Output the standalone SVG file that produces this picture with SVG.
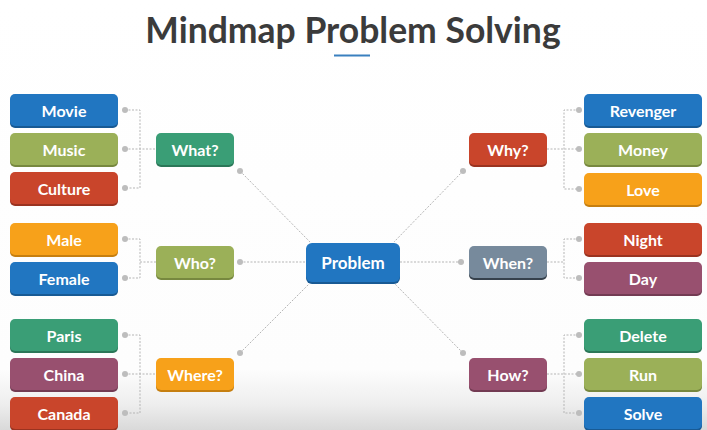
<svg xmlns="http://www.w3.org/2000/svg" width="707" height="430" viewBox="0 0 707 430">
<defs>
<linearGradient id="bg" x1="0" y1="0" x2="0" y2="1">
<stop offset="0" stop-color="#ffffff"/>
<stop offset="0.86" stop-color="#fdfdfd"/>
<stop offset="0.94" stop-color="#eeeeee"/>
<stop offset="1" stop-color="#d9d9d9"/>
</linearGradient>
</defs>
<style>
.t{font-family:Lato,"Liberation Sans",sans-serif;font-weight:bold;font-size:16px;fill:#ffffff;text-anchor:middle;dominant-baseline:central}
.big{font-size:17px}
.title{font-family:Lato,"Liberation Sans",sans-serif;font-weight:bold;font-size:35.5px;fill:#3b3b3b;text-anchor:middle}
.blue{fill:#2176c1}.blue-s{fill:#185a94}
.olive{fill:#9bb058}.olive-s{fill:#77883f}
.red{fill:#c9452b}.red-s{fill:#9a3320}
.teal{fill:#3a9e76}.teal-s{fill:#2b7758}
.orange{fill:#f7a11a}.orange-s{fill:#c67f10}
.purple{fill:#98506f}.purple-s{fill:#733b53}
.slate{fill:#778a9c}.slate-s{fill:#36414c}
.c{fill:none;stroke:#b5b5b5;stroke-width:1;stroke-dasharray:2 1.5}
.d{fill:#bdbdbd}
</style>
<rect width="707" height="430" fill="url(#bg)"/>
<text class="title" x="353" y="43">Mindmap Problem Solving</text>
<line x1="334" y1="55.5" x2="370" y2="55.5" stroke="#3a80bf" stroke-width="2"/>

<g id="connectors">
<path class="c" d="M125 110H140V188H125M125 149H156"/>
<path class="c" d="M125 239H140V278H125M140 262H156"/>
<path class="c" d="M125 335H140V413H125M125 374H156"/>
<path class="c" d="M579 110H564V189H579M547 149H579"/>
<path class="c" d="M579 239H564V278H579M547 262H564"/>
<path class="c" d="M579 335H564V413H579M547 374H579"/>
<path class="c" d="M240 171L310 242M240 262H306M240 353L309 284M463 171L394 242M400 262H461M463 353L395 284"/>
<circle class="d" cx="125" cy="110" r="3"/><circle class="d" cx="125" cy="149" r="3"/><circle class="d" cx="125" cy="188" r="3"/>
<circle class="d" cx="125" cy="239" r="3"/><circle class="d" cx="125" cy="278" r="3"/>
<circle class="d" cx="125" cy="335" r="3"/><circle class="d" cx="125" cy="374" r="3"/><circle class="d" cx="125" cy="413" r="3"/>
<circle class="d" cx="579" cy="110" r="3"/><circle class="d" cx="579" cy="149" r="3"/><circle class="d" cx="579" cy="189" r="3"/>
<circle class="d" cx="579" cy="239" r="3"/><circle class="d" cx="579" cy="278" r="3"/>
<circle class="d" cx="579" cy="335" r="3"/><circle class="d" cx="579" cy="374" r="3"/><circle class="d" cx="579" cy="413" r="3"/>
<circle class="d" cx="240" cy="171" r="3"/><circle class="d" cx="240" cy="262" r="3"/><circle class="d" cx="240" cy="353" r="3"/>
<circle class="d" cx="463" cy="171" r="3"/><circle class="d" cx="461" cy="262" r="3"/><circle class="d" cx="463" cy="353" r="3"/>
</g>

<g id="movie"><rect class="blue-s" x="10" y="96" width="108" height="32" rx="5"/><rect class="blue" x="10" y="94" width="108" height="32" rx="5"/><text class="t" x="64" y="110">Movie</text></g>
<g id="music"><rect class="olive-s" x="10" y="135" width="108" height="32" rx="5"/><rect class="olive" x="10" y="133" width="108" height="32" rx="5"/><text class="t" x="64" y="149">Music</text></g>
<g id="culture"><rect class="red-s" x="10" y="174" width="108" height="32" rx="5"/><rect class="red" x="10" y="172" width="108" height="32" rx="5"/><text class="t" x="64" y="188">Culture</text></g>
<g id="male"><rect class="orange-s" x="10" y="225" width="108" height="32" rx="5"/><rect class="orange" x="10" y="223" width="108" height="32" rx="5"/><text class="t" x="64" y="239">Male</text></g>
<g id="female"><rect class="blue-s" x="10" y="264" width="108" height="32" rx="5"/><rect class="blue" x="10" y="262" width="108" height="32" rx="5"/><text class="t" x="64" y="278">Female</text></g>
<g id="paris"><rect class="teal-s" x="10" y="321" width="108" height="32" rx="5"/><rect class="teal" x="10" y="319" width="108" height="32" rx="5"/><text class="t" x="64" y="335">Paris</text></g>
<g id="china"><rect class="purple-s" x="10" y="360" width="108" height="32" rx="5"/><rect class="purple" x="10" y="358" width="108" height="32" rx="5"/><text class="t" x="64" y="374">China</text></g>
<g id="canada"><rect class="red-s" x="10" y="399" width="108" height="32" rx="5"/><rect class="red" x="10" y="397" width="108" height="32" rx="5"/><text class="t" x="64" y="413">Canada</text></g>

<g id="what"><rect class="teal-s" x="156" y="135" width="78" height="32" rx="5"/><rect class="teal" x="156" y="133" width="78" height="32" rx="5"/><text class="t" x="195" y="149">What?</text></g>
<g id="who"><rect class="olive-s" x="156" y="248" width="78" height="32" rx="5"/><rect class="olive" x="156" y="246" width="78" height="32" rx="5"/><text class="t" x="195" y="262">Who?</text></g>
<g id="where"><rect class="orange-s" x="156" y="360" width="78" height="32" rx="5"/><rect class="orange" x="156" y="358" width="78" height="32" rx="5"/><text class="t" x="195" y="374">Where?</text></g>

<g id="problem"><rect class="blue-s" x="306" y="245" width="94" height="39" rx="6"/><rect class="blue" x="306" y="243" width="94" height="39" rx="6"/><text class="t big" x="353" y="262">Problem</text></g>

<g id="why"><rect class="red-s" x="469" y="135" width="78" height="32" rx="5"/><rect class="red" x="469" y="133" width="78" height="32" rx="5"/><text class="t" x="508" y="149">Why?</text></g>
<g id="when"><rect class="slate-s" x="469" y="248" width="78" height="32" rx="5"/><rect class="slate" x="469" y="246" width="78" height="32" rx="5"/><text class="t" x="508" y="262">When?</text></g>
<g id="how"><rect class="purple-s" x="469" y="360" width="78" height="32" rx="5"/><rect class="purple" x="469" y="358" width="78" height="32" rx="5"/><text class="t" x="508" y="374">How?</text></g>

<g id="revenger"><rect class="blue-s" x="584" y="96" width="118" height="32" rx="5"/><rect class="blue" x="584" y="94" width="118" height="32" rx="5"/><text class="t" x="643" y="110">Revenger</text></g>
<g id="money"><rect class="olive-s" x="584" y="135" width="118" height="32" rx="5"/><rect class="olive" x="584" y="133" width="118" height="32" rx="5"/><text class="t" x="643" y="149">Money</text></g>
<g id="love"><rect class="orange-s" x="584" y="175" width="118" height="32" rx="5"/><rect class="orange" x="584" y="173" width="118" height="32" rx="5"/><text class="t" x="643" y="189">Love</text></g>
<g id="night"><rect class="red-s" x="584" y="225" width="118" height="32" rx="5"/><rect class="red" x="584" y="223" width="118" height="32" rx="5"/><text class="t" x="643" y="239">Night</text></g>
<g id="day"><rect class="purple-s" x="584" y="264" width="118" height="32" rx="5"/><rect class="purple" x="584" y="262" width="118" height="32" rx="5"/><text class="t" x="643" y="278">Day</text></g>
<g id="delete"><rect class="teal-s" x="584" y="321" width="118" height="32" rx="5"/><rect class="teal" x="584" y="319" width="118" height="32" rx="5"/><text class="t" x="643" y="335">Delete</text></g>
<g id="run"><rect class="olive-s" x="584" y="360" width="118" height="32" rx="5"/><rect class="olive" x="584" y="358" width="118" height="32" rx="5"/><text class="t" x="643" y="374">Run</text></g>
<g id="solve"><rect class="blue-s" x="584" y="399" width="118" height="32" rx="5"/><rect class="blue" x="584" y="397" width="118" height="32" rx="5"/><text class="t" x="643" y="413">Solve</text></g>
</svg>
